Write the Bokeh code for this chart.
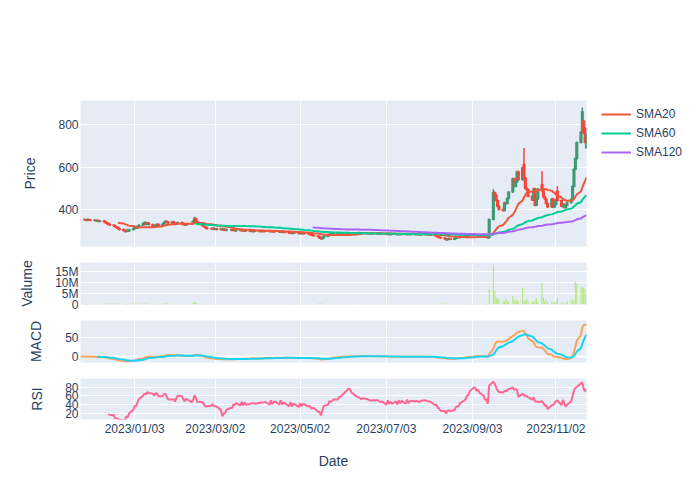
import pandas as pd
from bokeh.plotting import figure
from bokeh.layouts import column
from bokeh.models import (ColumnDataSource, Range1d, FixedTicker, DatetimeTickFormatter,
                          Legend, LegendItem, Grid, Span)
from bokeh.embed import file_html
from bokeh.resources import INLINE

# ---------------- data ----------------
first_day = "2022-11-25"
last_day = "2023-11-24"

close_prices = [
    353,
    352, 350, 353, 351, 349,
    350, 347, 348, 345, 346,
    342, 338, 335, 330, 327,
    322, 318, 315, 310, 306,
    301, 297, 303, 299, 305,
    310, 317, 313, 320, 326,
    333, 339, 331, 336, 329,
    323, 320, 327, 331, 325,
    332, 338, 345, 341, 336,
    342, 335, 331, 337, 339,
    334, 330, 327, 331, 333,
    333, 345, 358, 344, 336,
    328, 322, 318, 313, 310,
    309, 312, 307, 310, 306,
    309, 305, 307, 303, 306,
    306, 302, 305, 300, 303,
    301, 304, 299, 302, 300,
    298, 301, 297, 300, 299,
    297, 300, 296, 299, 298,
    296, 299, 295, 297, 296,
    294, 297, 293, 295, 292,
    290, 293, 288, 291, 289,
    287, 290, 286, 289, 286,
    285, 283, 280, 278, 276,
    272, 266, 262, 268, 274,
    279, 283, 286, 284, 287,
    285, 288, 286, 289, 287,
    288, 286, 289, 287, 290,
    288, 291, 287, 289, 288,
    290, 287, 289, 286, 288,
    286, 289, 285, 287, 286,
    284, 287, 283, 286, 284,
    285, 282, 286, 283, 285,
    283, 286, 282, 284, 283,
    285, 282, 284, 281, 284,
    282, 285, 281, 283, 280,
    278, 275, 271, 268, 266,
    262, 258, 261, 264, 260,
    264, 267, 270, 268, 272,
    274, 273, 277, 276, 279,
    281, 283, 280, 278, 276,
    274, 271, 269, 267, 353,
    480, 468, 442, 415, 400,
    395, 432, 428, 452, 482,
    545, 510, 530, 578, 540,
    596, 550, 500, 492, 462,
    445, 498, 420, 450, 496,
    488, 460, 450, 428, 412,
    450, 412, 425, 445, 442,
    415, 425, 410, 420, 432,
    448, 510, 590, 640, 715,
    765, 860, 760, 715, 755,
]

volume_m = [
    0.3,
    0.2, 0.3, 0.2, 0.2, 0.3,
    0.2, 0.2, 0.3, 0.2, 0.2,
    0.3, 0.4, 0.3, 0.5, 0.4,
    0.3, 0.4, 0.3, 0.3, 0.4,
    0.2, 0.3, 0.3, 0.2, 0.3,
    0.3, 0.4, 0.3, 0.3, 0.4,
    0.4, 0.5, 0.3, 0.3, 0.3,
    0.2, 0.2, 0.3, 0.3, 0.2,
    0.3, 0.4, 0.6, 0.4, 0.3,
    0.3, 0.3, 0.2, 0.2, 0.3,
    0.2, 0.2, 0.2, 0.3, 0.2,
    0.3, 0.7, 1.4, 0.8, 0.4,
    0.3, 0.3, 0.2, 0.3, 0.2,
    0.2, 0.2, 0.2, 0.2, 0.2,
    0.2, 0.1, 0.2, 0.2, 0.1,
    0.2, 0.2, 0.1, 0.2, 0.2,
    0.1, 0.2, 0.2, 0.1, 0.2,
    0.2, 0.1, 0.2, 0.2, 0.1,
    0.2, 0.2, 0.1, 0.2, 0.2,
    0.1, 0.2, 0.2, 0.1, 0.2,
    0.2, 0.1, 0.2, 0.2, 0.2,
    0.2, 0.2, 0.1, 0.2, 0.2,
    0.1, 0.2, 0.2, 0.2, 0.1,
    0.2, 0.2, 0.3, 0.2, 0.2,
    0.3, 0.4, 0.5, 0.3, 0.2,
    0.2, 0.2, 0.1, 0.2, 0.2,
    0.1, 0.2, 0.2, 0.1, 0.2,
    0.2, 0.1, 0.2, 0.2, 0.1,
    0.1, 0.2, 0.1, 0.2, 0.2,
    0.2, 0.1, 0.2, 0.1, 0.2,
    0.1, 0.2, 0.2, 0.1, 0.1,
    0.2, 0.1, 0.2, 0.2, 0.1,
    0.1, 0.2, 0.1, 0.2, 0.2,
    0.2, 0.1, 0.2, 0.1, 0.2,
    0.1, 0.2, 0.2, 0.1, 0.2,
    0.2, 0.1, 0.1, 0.2, 0.2,
    0.2, 0.2, 0.3, 0.3, 0.3,
    0.4, 0.5, 0.3, 0.3, 0.2,
    0.2, 0.2, 0.3, 0.2, 0.2,
    0.2, 0.2, 0.3, 0.2, 0.3,
    0.3, 0.3, 0.2, 0.2, 0.2,
    0.2, 0.2, 0.3, 0.3, 7.1,
    18.2, 6.4, 3.3, 2.7, 2.3,
    1.6, 1.6, 2.7, 1.8, 1.2,
    4.0, 2.3, 1.6, 2.3, 1.5,
    7.9, 1.8, 1.5, 2.5, 1.5,
    1.2, 1.5, 1.9, 3.0, 1.2,
    10.1, 3.3, 1.5, 2.3, 1.0,
    1.5, 0.9, 0.8, 1.5, 3.3,
    1.0, 0.8, 0.5, 0.4, 1.5,
    1.8, 2.5, 1.6, 10.6, 9.4,
    8.1, 8.0, 7.5, 7.1, 4.5,
]

high_wicks = {"2023-02-15": 366, "2023-09-18": 495, "2023-10-10": 690,
              "2023-10-23": 580, "2023-11-03": 510, "2023-11-21": 880}
open_gaps = {"2023-10-10": 612, "2023-10-23": 518, "2023-11-03": 486,
             "2023-11-22": 816, "2023-11-23": 784, "2023-11-24": 690}

tick_dates = ["2023-01-03", "2023-03-02", "2023-05-02", "2023-07-03", "2023-09-03", "2023-11-02"]
price_ticks = [400, 600, 800]
volume_ticks = [0, 5, 10, 15]
volume_tick_labels = ["0", "5M", "10M", "15M"]
macd_ticks = [0, 50]
rsi_ticks = [20, 40, 60, 80]

# ---------------- frame ----------------
dates = pd.bdate_range(first_day, last_day)
n = min(len(dates), len(close_prices), len(volume_m))
df = pd.DataFrame({"date": dates[:n], "close": close_prices[:n], "volume": volume_m[:n]})
df["open"] = df["close"].shift(1).fillna(df["close"])
for d, v in open_gaps.items():
    df.loc[df["date"] == pd.Timestamp(d), "open"] = v
df["top"] = df[["open", "close"]].max(axis=1)
df["bottom"] = df[["open", "close"]].min(axis=1)
df["high"] = df["top"]
df["low"] = df["bottom"]
for d, v in high_wicks.items():
    df.loc[df["date"] == pd.Timestamp(d), "high"] = v
df["color"] = ["#3D9970" if c > o else "#FF4136" for o, c in zip(df["open"], df["close"])]

df["sma20"] = df["close"].rolling(20).mean()
df["sma60"] = df["close"].rolling(60).mean()
df["sma120"] = df["close"].rolling(120).mean()
ema12 = df["close"].ewm(span=12, adjust=False).mean()
ema26 = df["close"].ewm(span=26, adjust=False).mean()
df["macd"] = ema12 - ema26
df["signal"] = df["macd"].ewm(span=9, adjust=False, min_periods=9).mean()
delta = df["close"].diff()
gain = delta.clip(lower=0).rolling(14).mean()
loss = (-delta.clip(upper=0)).rolling(14).mean()
df["rsi"] = 100 - 100 / (1 + gain / loss)

src = ColumnDataSource(df)

FONT = "Liberation Sans"
TXT = "#2a3f5f"
DAY = 86400000
tick_ms = [pd.Timestamp(d).value // 10**6 for d in tick_dates]
x_range = Range1d(start=df["date"].iloc[0], end=df["date"].iloc[-1])


def panel(frame_h, top, bottom, y_range, yticks, ylabel, title_standoff, show_x=False):
    p = figure(title=None, frame_width=506, frame_height=frame_h, x_range=x_range, y_range=y_range,
               x_axis_type="datetime", x_axis_location="below" if show_x else None,
               toolbar_location=None, output_backend="svg",
               min_border_left=80, min_border_right=114, min_border_top=top, min_border_bottom=bottom,
               background_fill_color="#E5ECF6", border_fill_color="white", outline_line_color=None)
    for g in p.xgrid:
        g.visible = False
    p.add_layout(Grid(dimension=0, ticker=FixedTicker(ticks=tick_ms),
                      grid_line_color="white", grid_line_width=1))
    ya = p.yaxis[0]
    ya.ticker = FixedTicker(ticks=yticks)
    p.ygrid.ticker = FixedTicker(ticks=yticks)
    p.ygrid.grid_line_color = "white"
    p.ygrid.grid_line_width = 1
    ya.axis_label = ylabel
    ya.axis_line_color = None
    ya.major_tick_line_color = None
    ya.minor_tick_line_color = None
    ya.major_tick_out = 0
    ya.major_tick_in = 0
    ya.major_label_standoff = 2
    ya.axis_label_standoff = title_standoff
    ya.major_label_text_font = FONT
    ya.major_label_text_font_size = "12px"
    ya.major_label_text_color = TXT
    ya.axis_label_text_font = FONT
    ya.axis_label_text_font_size = "14px"
    ya.axis_label_text_font_style = "normal"
    ya.axis_label_text_color = TXT
    if show_x:
        xa = p.xaxis[0]
        xa.ticker = FixedTicker(ticks=tick_ms)
        fmt = "%Y/%m/%d"
        xa.formatter = DatetimeTickFormatter(milliseconds=fmt, seconds=fmt, minsec=fmt, minutes=fmt,
                                             hourmin=fmt, hours=fmt, days=fmt, months=fmt, years=fmt)
        xa.axis_label = "Date"
        xa.axis_line_color = None
        xa.major_tick_line_color = None
        xa.minor_tick_line_color = None
        xa.major_tick_out = 0
        xa.major_tick_in = 0
        xa.major_label_standoff = 2
        xa.axis_label_standoff = 14
        xa.major_label_text_font = FONT
        xa.major_label_text_font_size = "12px"
        xa.major_label_text_color = TXT
        xa.axis_label_text_font = FONT
        xa.axis_label_text_font_size = "14px"
        xa.axis_label_text_font_style = "normal"
        xa.axis_label_text_color = TXT
    return p


# ---- price ----
p1 = panel(146, 100, 6, Range1d(226, 913), price_ticks, "Price", 17)
p1.segment(x0="date", y0="low", x1="date", y1="high", color="color", line_width=1.5, source=src)
p1.vbar(x="date", top="top", bottom="bottom", width=0.8 * DAY, fill_color="color", fill_alpha=0.5,
        line_color="color", line_width=2, source=src)
r20 = p1.line("date", "sma20", color="#EF553B", line_width=2, source=src)
r60 = p1.line("date", "sma60", color="#00CC96", line_width=2, source=src)
r120 = p1.line("date", "sma120", color="#AB63FA", line_width=2, source=src)
legend = Legend(items=[LegendItem(label="SMA20", renderers=[r20]),
                       LegendItem(label="SMA60", renderers=[r60]),
                       LegendItem(label="SMA120", renderers=[r120])],
                location=(15, 86), orientation="vertical",
                background_fill_alpha=0, border_line_color=None, padding=4, margin=0,
                spacing=3, label_height=16, glyph_height=16, glyph_width=30, label_standoff=5,
                label_text_font=FONT, label_text_font_size="12px", label_text_color=TXT)
p1.add_layout(legend, "right")

# ---- volume ----
p2 = panel(42, 10, 8, Range1d(0, 19.1), volume_ticks, "Valume", 17)
p2.yaxis[0].major_label_overrides = {t: s for t, s in zip(volume_ticks, volume_tick_labels)}
p2.vbar(x="date", top="volume", bottom=0, width=0.8 * DAY, fill_color="#B6E880",
        line_color=None, source=src)

# ---- MACD ----
p3 = panel(42, 8, 8, Range1d(-15.8, 94.7), macd_ticks, "MACD", 18)
p3.add_layout(Span(location=0, dimension="width", line_color="white", line_width=2, level="underlay"))
p3.line("date", "macd", color="#FFA15A", line_width=2, source=src)
p3.line("date", "signal", color="#19D3F3", line_width=2, source=src)

# ---- RSI ----
p4 = panel(41, 8, 81, Range1d(5, 100.8), rsi_ticks, "RSI", 17, show_x=True)
p4.line("date", "rsi", color="#FF6692", line_width=2, source=src)

layout = column(p1, p2, p3, p4, spacing=0)
open("out.html", "w").write(file_html(layout, INLINE))
